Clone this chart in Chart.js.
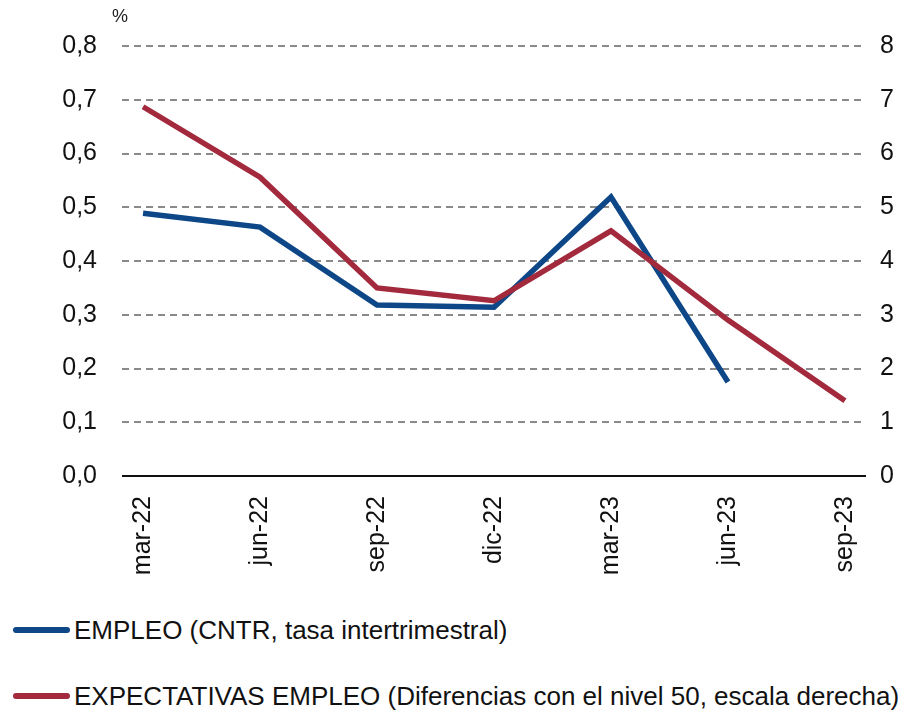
<!DOCTYPE html>
<html>
<head>
<meta charset="utf-8">
<title>Empleo y expectativas</title>
<style>
  body { margin: 0; background: #fff; font-family: 'Liberation Sans', Arial, sans-serif; }
  #wrap { position: relative; width: 910px; height: 715px; }
  #pct { position: absolute; left: 112px; top: 6px; font-size: 18px; color: #222; }
  .leg { position: absolute; left: 13px; font-size: 26px; line-height: 30px; color: #111; white-space: nowrap; }
  .leg span.sw { display: inline-block; width: 57px; height: 6px; border-radius: 3px; vertical-align: middle; margin-right: 4px; position: relative; top: -2px; }
</style>
</head>
<body>
<script src="https://cdn.jsdelivr.net/npm/chart.js@4/dist/chart.umd.min.js"></script>
<div id="wrap">
  <canvas id="myChart" width="910" height="600"></canvas>
  <div id="pct">%</div>
  <div class="leg" style="top:615px"><span class="sw" style="background:#0d4787"></span>EMPLEO (CNTR, tasa intertrimestral)</div>
  <div class="leg" style="top:681px"><span class="sw" style="background:#a3293d"></span>EXPECTATIVAS EMPLEO (Diferencias con el nivel 50, escala derecha)</div>
</div>
<script>
  // data
  var labels = ['mar-22', 'jun-22', 'sep-22', 'dic-22', 'mar-23', 'jun-23', 'sep-23'];
  var empleo = [0.489, 0.463, 0.318, 0.314, 0.519, 0.175, null];
  var expectativas = [6.87, 5.56, 3.50, 3.26, 4.56, 2.90, 1.40];

  var BLUE = '#0d4787';
  var RED = '#a3293d';
  var FONT = "'Liberation Sans', Arial, sans-serif";

  function toPoints(arr) {
    var pts = [];
    for (var i = 0; i < arr.length; i++) {
      pts.push({x: i, y: arr[i]});
    }
    return pts;
  }

  var ctx = document.getElementById('myChart');
  var myChart = new Chart(ctx, {
    type: 'line',
    data: {
      datasets: [
        {
          label: 'EMPLEO (CNTR, tasa intertrimestral)',
          data: toPoints(empleo),
          borderColor: BLUE,
          backgroundColor: BLUE,
          borderWidth: 5.5,
          pointRadius: 0,
          tension: 0,
          yAxisID: 'y',
          order: 1
        },
        {
          label: 'EXPECTATIVAS EMPLEO (Diferencias con el nivel 50, escala derecha)',
          data: toPoints(expectativas),
          borderColor: RED,
          backgroundColor: RED,
          borderWidth: 5.5,
          pointRadius: 0,
          tension: 0,
          yAxisID: 'y2',
          order: 0
        }
      ]
    },
    options: {
      responsive: false,
      animation: false,
      layout: { padding: { top: 46 } },
      plugins: {
        legend: { display: false },
        tooltip: { enabled: false }
      },
      scales: {
        x: {
          type: 'linear',
          min: -0.18,
          max: 6.18,
          afterBuildTicks: function(s) {
            s.ticks = labels.map(function(_, i) { return {value: i}; });
          },
          afterFit: function(s) { s.height = 124; },
          grid: { display: false, drawTicks: false },
          border: { display: false },
          ticks: {
            autoSkip: false,
            minRotation: 90,
            maxRotation: 90,
            padding: 20,
            color: '#111',
            font: { family: FONT, size: 25 },
            callback: function(v) { return labels[v]; }
          }
        },
        y: {
          position: 'left',
          min: 0,
          max: 0.8,
          afterFit: function(s) { s.width = 122; },
          border: { display: false },
          grid: { display: false, drawTicks: false },
          ticks: {
            stepSize: 0.1,
            padding: 25,
            color: '#111',
            font: { family: FONT, size: 25 },
            callback: function(v) { return v.toFixed(1).replace('.', ','); }
          }
        },
        y2: {
          position: 'right',
          min: 0,
          max: 8,
          afterFit: function(s) { s.width = 44; },
          border: { display: false },
          grid: { display: false, drawTicks: false },
          ticks: {
            stepSize: 1,
            padding: 14,
            color: '#111',
            font: { family: FONT, size: 25 }
          }
        }
      }
    },
    plugins: [{
      // dashed grid except the zero line
      id: 'dashGrid',
      beforeDatasetsDraw: function(chart) {
        var y = chart.scales.y;
        var area = chart.chartArea;
        var c = chart.ctx;
        c.save();
        c.lineWidth = 2;
        y.ticks.forEach(function(t) {
          var py = Math.round(y.getPixelForValue(t.value));
          c.beginPath();
          if (t.value === 0) {
            c.setLineDash([]);
            c.strokeStyle = '#111';
          } else {
            c.setLineDash([7, 5]);
            c.strokeStyle = '#8a8a8a';
          }
          c.moveTo(area.left, py);
          c.lineTo(area.right, py);
          c.stroke();
        });
        c.restore();
      }
    }]
  });
</script>
</body>
</html>
